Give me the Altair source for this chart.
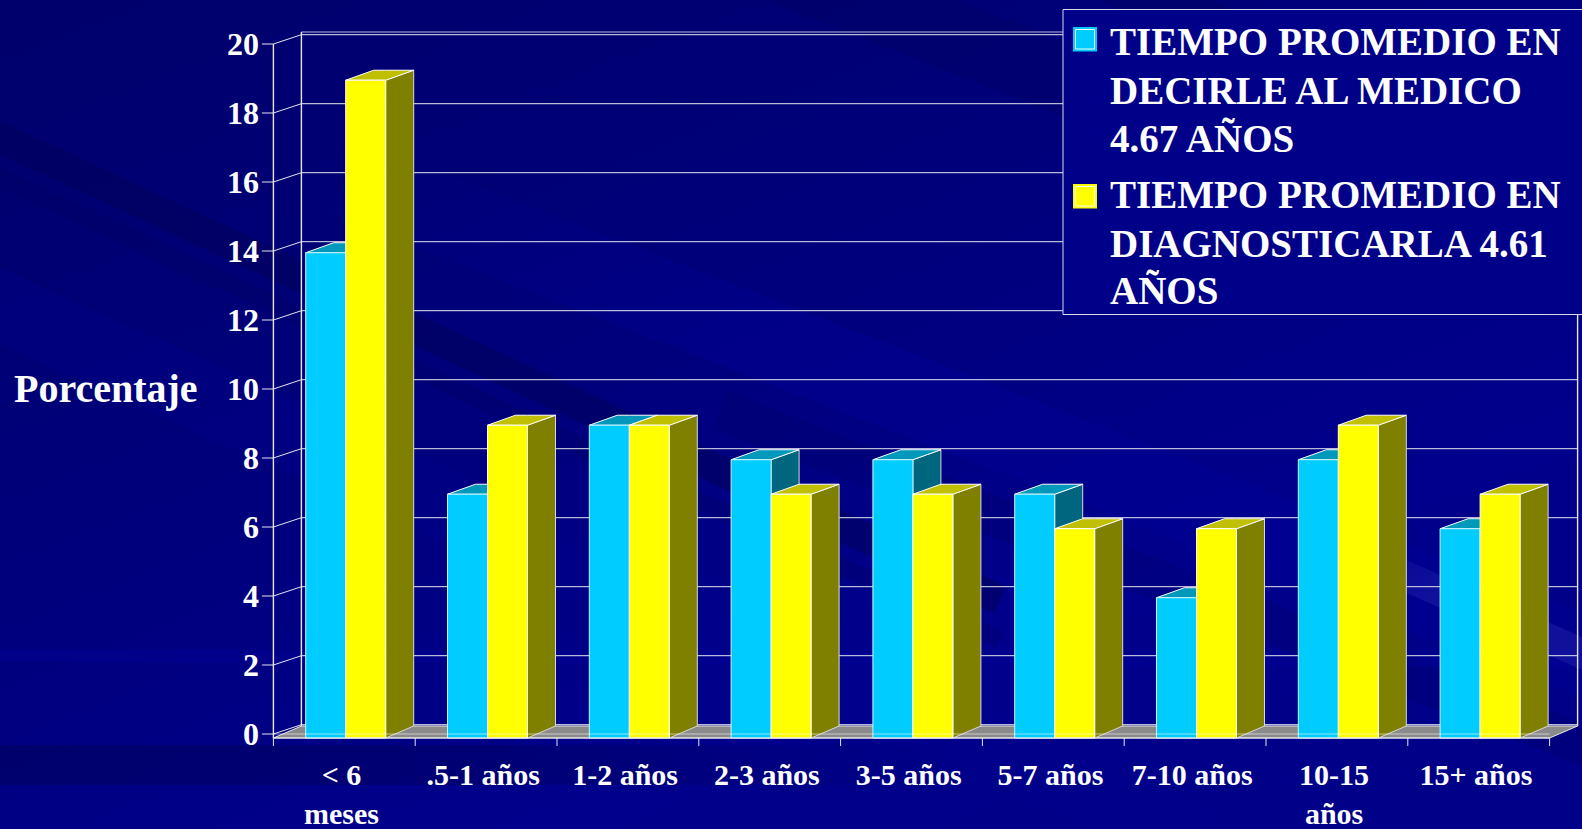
import altair as alt
import pandas as pd

# Chart values
categories = ["< 6|meses", ".5-1 años", "1-2 años", "2-3 años", "3-5 años",
              "5-7 años", "7-10 años", "10-15|años", "15+ años"]
tiempo_decirle = [13.95, 6.95, 8.95, 7.95, 7.95, 6.95, 3.95, 7.95, 5.95]
tiempo_diagnostico = [18.95, 8.95, 8.95, 6.95, 6.95, 5.95, 5.95, 8.95, 6.95]
y_ticks = list(range(0, 21, 2))
legend_first = ["TIEMPO PROMEDIO EN", "DECIRLE AL MEDICO", "4.67 AÑOS"]
legend_second = ["TIEMPO PROMEDIO EN", "DIAGNOSTICARLA 4.61", "AÑOS"]
y_title = "Porcentaje"

W, H = 1582, 829
FONT = "Liberation Serif"

# One category unit and one percentage point, in pixels
UX, UY = 141.8, 34.5
X0, Y0 = 273.4, 734.0
x_scale = alt.Scale(domain=[-X0 / UX, (W - X0) / UX], range=[0, W], nice=False, zero=False)
y_scale = alt.Scale(domain=[(Y0 - H) / UY, Y0 / UY], range=[H, 0], nice=False, zero=False)

# Depth of the 3-D box, in axis units
DX = 28 / UX
DY = 10 / UY
GRID_DY = 9.3 / UY
BASE = -4 / UY
BASE_DY = 12 / UY
BAR_START = 32.3 / UX
BAR_W = 40 / UX
N = len(categories)


def faces(values, start):
    front, side, top = [], [], []
    for i, v in enumerate(values):
        x0 = i + BAR_START + start
        x1 = x0 + BAR_W
        front.append({"x": x0, "x2": x1, "y": v, "y2": BASE})
        side += [
            {"id": i, "x": x1, "y": v, "y2": BASE},
            {"id": i, "x": x1 + DX, "y": v + DY, "y2": BASE + BASE_DY},
        ]
        top += [
            {"id": i, "x": x0, "y": v, "y2": v},
            {"id": i, "x": x0 + DX, "y": v + DY, "y2": v},
            {"id": i, "x": x1, "y": v + DY, "y2": v},
            {"id": i, "x": x1 + DX, "y": v + DY, "y2": v + DY},
        ]
    return pd.DataFrame(front), pd.DataFrame(side), pd.DataFrame(top)


X = alt.X("x:Q", scale=x_scale, axis=None)
Y = alt.Y("y:Q", scale=y_scale, axis=None)


def bar_layers(values, start, front_col, top_col, side_col, edge):
    front, side, top = faces(values, start)
    return [
        alt.Chart(side).mark_area(fill=side_col, stroke="#d8d8d8", strokeWidth=1, orient="vertical").encode(
            x=X, y=Y, y2="y2:Q", detail="id:N"),
        alt.Chart(top).mark_area(fill=top_col, stroke="#ffffff", strokeWidth=1, orient="vertical").encode(
            x=X, y=Y, y2="y2:Q", detail="id:N"),
        alt.Chart(front).mark_rect(fill=front_col, stroke=edge, strokeWidth=1).encode(
            x=X, x2="x2:Q", y=Y, y2="y2:Q"),
    ]


# Backdrop: diagonal slide-style streaks over a navy gradient
backdrop = alt.Chart(pd.DataFrame({"a": [0]})).mark_rect(
    fill=alt.Gradient(
        gradient="linear", x1=0, y1=0, x2=0.75, y2=1,
        stops=[
            alt.GradientStop(color="#00006c", offset=0),
            alt.GradientStop(color="#000074", offset=0.25),
            alt.GradientStop(color="#00007e", offset=0.5),
            alt.GradientStop(color="#00008c", offset=0.8),
            alt.GradientStop(color="#000088", offset=1),
        ],
    )
).encode(x=alt.value(0), x2=alt.value(W), y=alt.value(0), y2=alt.value(H))


def fading(colour, opacity):
    # Stroke that grows out of nothing along the length of a streak
    return alt.Gradient(
        gradient="linear", x1=0, y1=0, x2=1, y2=1,
        stops=[
            alt.GradientStop(color=f"rgba({colour},0)", offset=0),
            alt.GradientStop(color=f"rgba({colour},{opacity})", offset=0.35),
            alt.GradientStop(color=f"rgba({colour},{opacity})", offset=1),
        ],
    )


streaks = [
    # x, y, x2, y2, width, colour, opacity
    (-60, 110, 1000, 600, 30, "#000058", 0.5),
    (-60, 150, 1000, 640, 18, "#000060", 0.3),
    (-60, 280, 1200, 840, 70, "#000090", 0.3),
    (760, -40, 1700, 330, 70, "#000064", 0.4),
    (1050, -40, 1700, 210, 40, "#00005c", 0.35),
    (720, 410, 1700, 790, 40, "#000064", 0.25),
    (-60, 655, 1700, 662, 12, "#0000a0", 0.3),
]
streak_layers = [
    alt.Chart(pd.DataFrame({"a": [0]})).mark_rule(stroke=c, strokeWidth=w, opacity=o).encode(
        x=alt.value(a), x2=alt.value(c2), y=alt.value(b), y2=alt.value(d2))
    for a, b, c2, d2, w, c, o in streaks
]
glow_layers = [
    alt.Chart(pd.DataFrame({"a": [0]})).mark_rule(stroke=fading(c, o), strokeWidth=w).encode(
        x=alt.value(a), x2=alt.value(c2), y=alt.value(b), y2=alt.value(d2))
    for a, b, c2, d2, w, c, o in [
        (300, 160, 1700, 700, 80, "0,0,152", 0.4),
        (1300, 530, 1700, 705, 30, "32,32,168", 0.5),
    ]
]
# Dark haze under the axis on the left, dying away towards the middle
bottom_haze = alt.Chart(pd.DataFrame({"a": [0]})).mark_rect(
    fill=alt.Gradient(
        gradient="linear", x1=0, y1=0, x2=1, y2=0,
        stops=[
            alt.GradientStop(color="rgba(0,0,92,0.55)", offset=0),
            alt.GradientStop(color="rgba(0,0,92,0.45)", offset=0.5),
            alt.GradientStop(color="rgba(0,0,92,0)", offset=1),
        ],
    )
).encode(x=alt.value(0), x2=alt.value(1000), y=alt.value(745), y2=alt.value(785))

# Back wall, floor and axes
GRID = "#e6e6ee"
ticks = pd.DataFrame({"v": y_ticks})
ticks["back"] = ticks["v"] + GRID_DY
ticks["left"] = -11.5 / UX
ticks["x0"] = 0.0
ticks["xb"] = DX
ticks["xe"] = N + DX
ticks["label"] = ticks["v"].astype(str)

floor = pd.DataFrame([
    {"x": 0, "y": BASE, "y2": BASE},
    {"x": DX, "y": BASE + BASE_DY, "y2": BASE},
    {"x": N, "y": BASE + BASE_DY, "y2": BASE},
    {"x": N + DX, "y": BASE + BASE_DY, "y2": BASE + BASE_DY},
])
floor_layer = alt.Chart(floor).mark_area(fill="#8a8a8a", stroke="#e8e8e8", strokeWidth=1, orient="vertical").encode(
    x=X, y=Y, y2="y2:Q")

grid_layer = alt.Chart(ticks).mark_rule(stroke=GRID, strokeWidth=1).encode(
    x=alt.X("xb:Q", scale=x_scale, axis=None), x2="xe:Q",
    y=alt.Y("back:Q", scale=y_scale, axis=None))
ceiling = alt.Chart(pd.DataFrame({"x": [DX], "x2": [N + DX], "y": [20 + 12 / UY]})).mark_rule(
    stroke=GRID, strokeWidth=1, opacity=0.8).encode(x=X, x2="x2:Q", y=Y)
tick_side = alt.Chart(ticks).mark_rule(stroke=GRID, strokeWidth=1).encode(
    x=alt.X("x0:Q", scale=x_scale, axis=None), x2="xb:Q",
    y=alt.Y("v:Q", scale=y_scale, axis=None), y2="back:Q")
tick_left = alt.Chart(ticks).mark_rule(stroke=GRID, strokeWidth=1).encode(
    x=alt.X("left:Q", scale=x_scale, axis=None), x2="x0:Q",
    y=alt.Y("v:Q", scale=y_scale, axis=None))
tick_labels = alt.Chart(ticks).mark_text(
    font=FONT, fontWeight="bold", fontSize=32, color="white", align="right", baseline="middle", dy=1
).encode(x=alt.value(259), y=alt.Y("v:Q", scale=y_scale, axis=None), text="label:N")

walls = pd.DataFrame([
    {"x": 0, "y": 20, "y2": BASE},
    {"x": DX, "y": 20 + 12 / UY, "y2": BASE + BASE_DY},
    {"x": N + DX, "y": 20 + 12 / UY, "y2": BASE + BASE_DY},
])
wall_layer = alt.Chart(walls).mark_rule(stroke=GRID, strokeWidth=1.4).encode(x=X, y=Y, y2="y2:Q")

cat_ticks = pd.DataFrame({"x": list(range(N + 1))})
cat_ticks["y"] = BASE
cat_ticks["y2"] = BASE - 8 / UY
cat_tick_layer = alt.Chart(cat_ticks).mark_rule(stroke=GRID, strokeWidth=1).encode(x=X, y=Y, y2="y2:Q")

# Category labels, wrapped at "|"
rows = []
for i, c in enumerate(categories):
    for k, part in enumerate(c.split("|")):
        rows.append({"x": i + 0.48, "line": k, "t": part})
cat_df = pd.DataFrame(rows)
cat_label_1 = alt.Chart(cat_df[cat_df.line == 0]).mark_text(
    font=FONT, fontWeight="bold", fontSize=30, color="white", baseline="alphabetic"
).encode(x=X, y=alt.value(785), text="t:N")
cat_label_2 = alt.Chart(cat_df[cat_df.line == 1]).mark_text(
    font=FONT, fontWeight="bold", fontSize=30, color="white", baseline="alphabetic"
).encode(x=X, y=alt.value(824), text="t:N")

title_layer = alt.Chart(pd.DataFrame({"t": [y_title]})).mark_text(
    font=FONT, fontWeight="bold", fontSize=40, color="white", align="left", baseline="alphabetic"
).encode(x=alt.value(14), y=alt.value(402), text="t:N")

# Baseline strip in front of the bars
front_line = alt.Chart(pd.DataFrame({"x": [0], "x2": [N], "y": [0.0]})).mark_rule(
    stroke="#ffffff", strokeWidth=1, opacity=0.55).encode(x=X, x2="x2:Q", y=Y)
base_line = alt.Chart(pd.DataFrame({"x": [0], "x2": [N], "y": [BASE]})).mark_rule(
    stroke="#e8e8e8", strokeWidth=1.2).encode(x=X, x2="x2:Q", y=Y)

# Legend
def px_rect(x, x2, y, y2, **kw):
    return alt.Chart(pd.DataFrame({"a": [0]})).mark_rect(**kw).encode(
        x=alt.value(x), x2=alt.value(x2), y=alt.value(y), y2=alt.value(y2))


legend_box = px_rect(1063, W + 10, 9.5, 314.5, fill="#000088", stroke="#d8d8e8", strokeWidth=1)


def swatch(top, colour):
    return [
        px_rect(1073, 1097, top, top + 24.5, fill=colour),
        px_rect(1075.5, 1094.5, top + 2.5, top + 22, fill=colour, stroke="#f0ffff", strokeWidth=1),
    ]


def legend_lines(lines, baselines):
    out = []
    for line, yb in zip(lines, baselines):
        out.append(alt.Chart(pd.DataFrame({"t": [line]})).mark_text(
            font=FONT, fontWeight="bold", fontSize=39, color="white", align="left", baseline="alphabetic"
        ).encode(x=alt.value(1110), y=alt.value(yb), text="t:N"))
    return out


layers = [backdrop] + streak_layers + glow_layers + [
    bottom_haze,
    grid_layer, ceiling, wall_layer, tick_side, tick_left, floor_layer, cat_tick_layer,
    *bar_layers(tiempo_decirle, 0, "#00ccff", "#0099bb", "#006680", "#c8f4ff"),
    *bar_layers(tiempo_diagnostico, BAR_W, "#ffff00", "#c0c000", "#808000", "#ffffff"),
    front_line, base_line, tick_labels, cat_label_1, cat_label_2, title_layer,
    legend_box, *swatch(27, "#00ccff"), *swatch(184, "#ffff00"),
    *legend_lines(legend_first, [55, 103.5, 152]),
    *legend_lines(legend_second, [208, 256.5, 304]),
]

chart = alt.layer(*layers).properties(
    width=W, height=H, padding=0, autosize=alt.AutoSizeParams(type="none"), background="#000080"
).configure_view(stroke=None)

chart.save("out.html", embed_options={"renderer": "svg", "actions": False})
